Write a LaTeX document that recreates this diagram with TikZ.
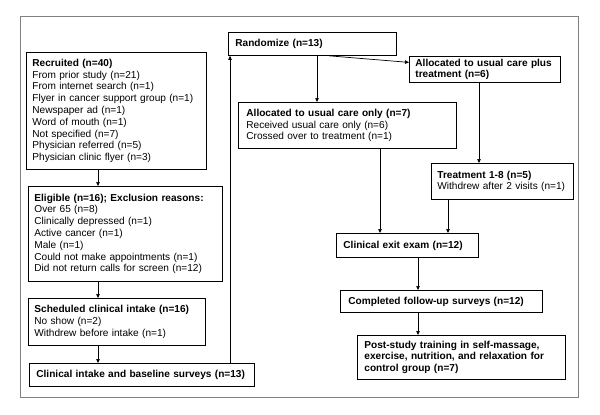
\documentclass[tikz,border=0pt]{standalone}
\usepackage{fontspec}
\setmainfont{Liberation Sans}
\usetikzlibrary{arrows.meta,calc}
\begin{document}
\begin{tikzpicture}[x=1pt,y=-1pt,
  box/.style={draw=black, line width=0.8pt, anchor=north west, align=left, inner ysep=0pt, font=\fontsize{10.1}{11.8}\selectfont},
  arr/.style={draw=black, line width=0.7pt, -{Triangle[length=4pt,width=3.5pt]}},
  ln/.style={draw=black, line width=0.7pt}]
\useasboundingbox[fill=white] (0,0) rectangle (600,415);
\draw[draw=black!50, line width=1pt] (20,16) rectangle (578,397);

\node[box, inner xsep=6pt, minimum width=180pt, minimum height=117pt, text width=168pt] (rec) at (26,52)
 {\textbf{Recruited (n=40)}\\From prior study (n=21)\\From internet search (n=1)\\Flyer in cancer support group (n=1)\\Newspaper ad (n=1)\\Word of mouth (n=1)\\Not specified (n=7)\\Physician referred (n=5)\\Physician clinic flyer (n=3)};
\node[box, inner xsep=6pt, minimum width=194pt, minimum height=95pt, text width=182pt] (elig) at (28,186)
 {\textbf{Eligible (n=16); Exclusion reasons:}\\Over 65 (n=8)\\Clinically depressed (n=1)\\Active cancer (n=1)\\Male (n=1)\\Could not make appointments (n=1)\\Did not return calls for screen (n=12)};
\node[box, inner xsep=6pt, minimum width=177pt, minimum height=47pt, text width=165pt] (sched) at (28,298)
 {\textbf{Scheduled clinical intake (n=16)}\\No show (n=2)\\Withdrew before intake (n=1)};
\node[box, inner xsep=7pt, minimum width=225pt, minimum height=23pt, text width=211pt] (intake) at (29,363)
 {\textbf{Clinical intake and baseline surveys (n=13)}};
\node[box, inner xsep=7pt, minimum width=168pt, minimum height=23pt, text width=154pt] (rand) at (228,32)
 {\textbf{Randomize (n=13)}};
\node[box, inner xsep=6pt, minimum width=151pt, minimum height=26pt, text width=139pt] (plus) at (409,56)
 {\textbf{Allocated to usual care plus}\\\textbf{treatment (n=6)}};
\node[box, inner xsep=8pt, minimum width=218pt, minimum height=46pt, text width=202pt] (usual) at (238,102)
 {\textbf{Allocated to usual care only (n=7)}\\Received usual care only (n=6)\\Crossed over to treatment (n=1)};
\node[box, inner xsep=6pt, minimum width=142pt, minimum height=36pt, text width=130pt] (treat) at (431,163)
 {\textbf{Treatment 1-8 (n=5)}\\Withdrew after 2 visits (n=1)};
\node[box, inner xsep=7pt, minimum width=142pt, minimum height=24pt, text width=128pt] (exit) at (336,233)
 {\textbf{Clinical exit exam (n=12)}};
\node[box, inner xsep=8pt, minimum width=202pt, minimum height=22pt, text width=186pt] (follow) at (340,290)
 {\textbf{Completed follow-up surveys (n=12)}};
\node[box, inner xsep=7pt, minimum width=208pt, minimum height=44pt, text width=194pt] (post) at (357,335)
 {\textbf{Post-study training in self-massage,}\\\textbf{exercise, nutrition, and relaxation for}\\\textbf{control group (n=7)}};

\coordinate (c1) at ([xshift=72pt]rec.south west);
\draw[arr] (c1) -- (c1 |- elig.north);
\draw[arr] (c1 |- elig.south) -- (c1 |- sched.north);
\draw[arr] (c1 |- sched.south) -- (c1 |- intake.north);
\coordinate (c2) at ([xshift=2pt]rand.south west);
\draw[arr] (c2 |- intake.north) -- (c2);
\coordinate (c3) at ([xshift=89pt]rand.south west);
\draw[arr] (c3) -- (c3 |- usual.north);
\draw[arr] ([xshift=-68pt]rand.south east) -- ([yshift=7pt]plus.west);
\coordinate (c4) at ([xshift=70pt]plus.south west);
\draw[arr] (c4) -- (c4 |- treat.north);
\coordinate (c5) at ([xshift=44pt]exit.north west);
\draw[arr] (c5 |- usual.south) -- (c5);
\coordinate (c6) at ([xshift=112pt]exit.north west);
\draw[arr] (c6 |- treat.south) -- (c6);
\coordinate (c7) at ([xshift=82pt]exit.south west);
\draw[arr] (c7) -- (c7 |- follow.north);
\draw[arr] (c7 |- follow.south) -- (c7 |- post.north);
\end{tikzpicture}
\end{document}
